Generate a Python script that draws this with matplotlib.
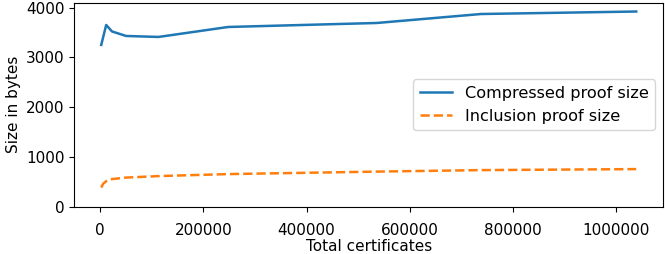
import matplotlib
matplotlib.use("Agg")
import matplotlib.pyplot as plt

# values
certs_compressed = [2000, 11600, 23000, 50000, 113000, 248000, 536000, 738000, 1039000]
compressed_size = [3250, 3650, 3520, 3430, 3410, 3610, 3690, 3870, 3920]

certs_inclusion = [2000, 6000, 12000, 23000, 50000, 113000, 248000, 536000, 738000, 1039000]
inclusion_size = [390, 470, 520, 560, 590, 620, 660, 710, 740, 760]

plt.rcParams['font.size'] = 11

fig, ax = plt.subplots(figsize=(6.65, 2.54), dpi=100)
ax.plot(certs_compressed, compressed_size, color='#1f77b4', lw=1.8, label='Compressed proof size')
ax.plot(certs_inclusion, inclusion_size, color='#ff7f0e', lw=1.8, ls='--', label='Inclusion proof size')
ax.set_xlabel("Total certificates", labelpad=1)
ax.set_ylabel("Size in bytes")
ax.set_ylim(0, 4100)
ax.set_yticks([0, 1000, 2000, 3000, 4000])
ax.set_xticks([0, 200000, 400000, 600000, 800000, 1000000])
ax.ticklabel_format(style='plain', axis='x')
ax.tick_params(axis='x', pad=8)
ax.legend(loc='center right', prop={'size': 11.6})
fig.subplots_adjust(left=0.112, right=0.997, top=0.99, bottom=0.185)
fig.savefig("out.png")
